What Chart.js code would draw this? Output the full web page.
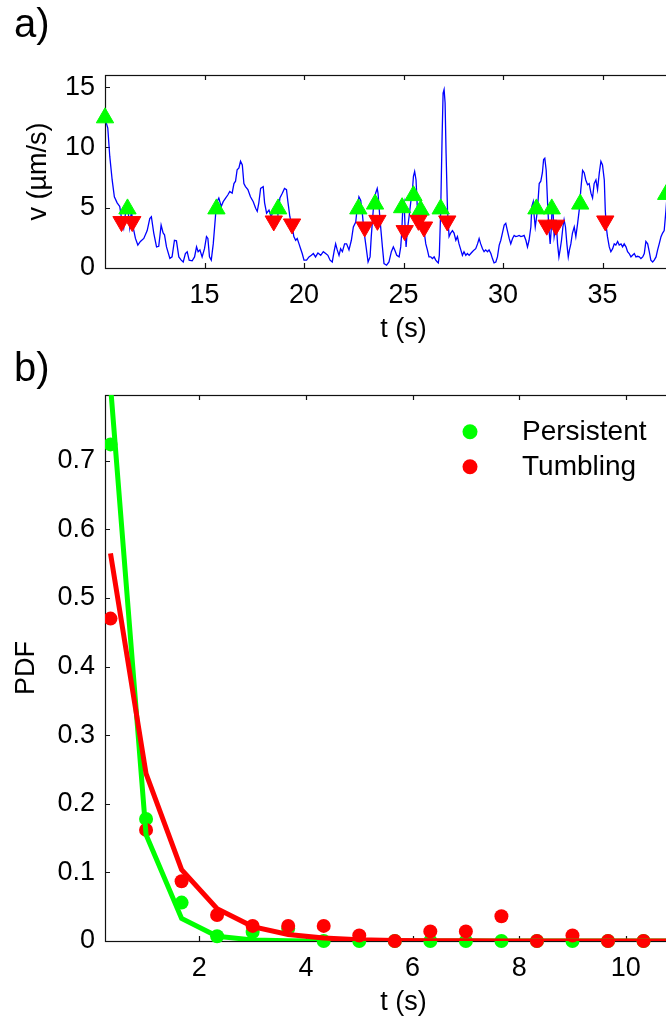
<!DOCTYPE html>
<html><head><meta charset="utf-8">
<script src="https://cdn.jsdelivr.net/npm/chart.js@4/dist/chart.umd.min.js"></script>
<style>
html,body{margin:0;padding:0;background:#fff;overflow:hidden;width:666px;height:1016px;position:relative;}
#wa{position:absolute;left:0;top:0;width:740px;height:350px;}
#wb{position:absolute;left:0;top:340px;width:740px;height:690px;}
.lab{position:absolute;z-index:5;font-family:"Liberation Sans",Arial,sans-serif;font-size:40px;line-height:1;color:#000;}
</style></head>
<body>
<div class="lab" style="left:14px;top:3px">a)</div>
<div class="lab" style="left:14px;top:347px">b)</div>
<div id="wa"><canvas id="ca" width="740" height="350"></canvas></div>
<div id="wb"><canvas id="cb" width="740" height="690"></canvas></div>
<script>
// ---------- Panel a data ----------
const tA = [10.0,10.14,10.24,10.36,10.47,10.61,10.74,10.86,10.94,11.04,11.14,11.24,11.33,11.41,11.53,11.65,11.78,11.95,12.12,12.25,12.33,12.45,12.59,12.7,12.82,12.92,12.99,13.09,13.26,13.37,13.49,13.59,13.71,13.83,13.93,14.04,14.13,14.23,14.38,14.5,14.6,14.68,14.77,14.88,15.0,15.1,15.17,15.25,15.34,15.44,15.55,15.6,15.72,15.84,15.94,16.06,16.17,16.27,16.39,16.48,16.56,16.64,16.73,16.81,16.9,16.98,17.06,17.18,17.31,17.45,17.57,17.65,17.73,17.82,17.95,18.02,18.12,18.24,18.35,18.45,18.52,18.62,18.69,18.79,18.91,19.02,19.12,19.19,19.29,19.41,19.49,19.58,19.66,19.75,19.83,19.91,20.0,20.13,20.25,20.37,20.47,20.58,20.7,20.84,20.97,21.09,21.2,21.31,21.42,21.51,21.59,21.67,21.76,21.84,21.93,22.04,22.14,22.26,22.38,22.48,22.6,22.68,22.76,22.85,22.93,23.01,23.1,23.22,23.32,23.38,23.48,23.6,23.68,23.72,23.82,23.94,24.02,24.15,24.27,24.39,24.49,24.56,24.66,24.78,24.86,24.91,24.96,25.03,25.08,25.13,25.19,25.28,25.36,25.45,25.5,25.56,25.63,25.7,25.78,25.87,25.95,26.03,26.12,26.2,26.28,26.37,26.45,26.54,26.62,26.7,26.75,26.8,26.87,26.94,26.99,27.04,27.09,27.14,27.21,27.29,27.37,27.46,27.54,27.63,27.71,27.79,27.88,27.96,28.04,28.13,28.21,28.3,28.38,28.46,28.55,28.63,28.72,28.8,28.88,28.97,29.05,29.13,29.22,29.3,29.39,29.47,29.55,29.64,29.72,29.81,29.89,29.97,30.06,30.14,30.22,30.31,30.39,30.48,30.56,30.64,30.73,30.81,30.9,30.98,31.06,31.15,31.23,31.31,31.4,31.45,31.52,31.57,31.62,31.67,31.73,31.82,31.9,31.98,32.04,32.1,32.17,32.24,32.3,32.37,32.42,32.47,32.52,32.57,32.62,32.67,32.74,32.81,32.87,32.94,33.01,33.07,33.14,33.21,33.28,33.34,33.41,33.49,33.58,33.66,33.75,33.83,33.91,34.0,34.08,34.16,34.25,34.33,34.42,34.5,34.58,34.67,34.75,34.84,34.92,35.0,35.09,35.14,35.19,35.25,35.34,35.42,35.51,35.59,35.67,35.76,35.84,35.93,36.01,36.09,36.18,36.26,36.34,36.43,36.51,36.6,36.68,36.76,36.85,36.93,37.02,37.1,37.18,37.27,37.35,37.43,37.52,37.6,37.69,37.77,37.85,37.94,38.02,38.1,38.19,38.24,38.32];
const vA = [12.4,11.6,9.25,7.3,5.9,5.4,5.1,3.8,3.3,4.7,5.1,3.4,4.8,3.4,2.45,1.9,2.2,2.45,3.1,4.1,4.25,2.9,1.75,1.8,3.55,2.9,2.75,1.75,0.8,0.92,2.3,2.25,0.92,0.65,0.5,1.2,1.35,0.65,0.6,0.92,1.75,1.35,1.5,0.92,1.6,2.6,2.45,0.92,0.65,2.0,4.25,5.4,5.8,5.1,5.5,5.8,6.05,6.35,6.2,7.0,7.2,8.15,8.3,8.85,8.55,7.0,6.75,6.5,5.9,5.5,4.95,4.7,5.4,6.6,6.75,5.4,4.55,4.8,4.25,4.7,4.8,5.1,4.4,5.8,6.2,6.6,6.5,5.5,4.25,3.4,2.6,2.3,2.45,2.0,1.6,1.2,0.65,0.65,0.92,1.05,1.2,0.92,1.25,1.05,1.35,1.2,1.05,0.65,0.5,1.35,2.0,1.5,1.05,1.6,1.35,2.0,2.0,1.5,2.3,3.4,3.8,5.1,5.9,5.6,4.55,3.1,2.0,0.5,0.92,2.6,4.8,6.2,6.6,6.2,4.0,1.75,0.36,0.23,0.5,1.35,1.75,1.5,1.05,0.92,1.75,2.9,4.8,5.4,3.4,1.75,3.1,4.25,5.4,6.5,7.6,8.0,7.3,4.8,4.25,4.8,4.0,3.1,2.0,1.5,0.92,0.92,0.78,0.92,0.65,0.5,0.42,1.05,4.8,10.9,14.5,14.8,13.7,9.5,4.8,2.6,2.9,3.1,2.9,2.3,2.6,2.0,1.5,1.05,1.35,1.05,1.2,1.05,1.2,1.35,1.5,1.6,2.0,2.45,2.0,1.6,1.35,1.5,1.35,1.5,1.2,0.78,0.42,0.5,0.92,1.9,2.3,2.9,3.55,3.7,3.1,2.45,2.0,2.45,2.7,2.6,2.65,2.7,2.6,2.65,2.7,2.3,1.75,2.3,3.4,5.1,5.5,4.25,3.4,4.0,4.8,7.0,7.2,7.9,9.0,9.1,8.1,5.4,3.4,2.0,3.1,5.1,4.55,2.6,3.1,4.0,2.0,0.92,1.5,2.3,3.4,4.0,3.4,2.0,0.92,1.5,2.0,2.9,3.4,2.6,3.7,4.8,6.5,8.1,7.9,7.3,6.9,7.0,6.2,5.8,7.0,7.3,6.5,7.9,8.85,8.55,7.3,4.8,3.4,2.6,1.75,1.35,1.6,2.0,1.9,2.2,1.9,2.0,1.75,2.0,1.75,1.35,1.2,0.92,1.05,1.2,0.92,0.97,0.92,0.78,0.92,1.2,2.2,2.0,1.35,0.65,0.5,0.65,0.92,1.5,2.0,2.6,2.9,3.1,4.8,5.9,6.3];
// persistent-phase start markers (green) and tumble markers (red)
const persT = [10.0,11.13,15.6,18.7,22.73,23.57,24.93,25.5,25.86,26.87,31.68,32.45,33.88,38.2];
const persV = [12.45,4.9,4.9,4.9,4.9,5.3,5.0,6.0,4.8,4.9,4.9,4.9,5.3,6.1];
const tumbT = [10.83,11.37,18.48,19.4,23.05,23.69,25.06,25.75,26.03,27.2,32.2,32.66,35.14];
const tumbV = [3.85,3.85,3.9,3.65,3.4,3.95,3.1,3.95,3.4,3.9,3.55,3.55,3.9];
const xTicksA = [15,20,25,30,35,40];
const yTicksA = [0,5,10,15];

// ---------- Panel b data ----------
const seriesB = ['Persistent','Tumbling'];
const tB = [0.333,1.0,1.667,2.333,3.0,3.667,4.333,5.0,5.667,6.333,7.0,7.667,8.333,9.0,9.667,10.333];
const pdfPers = [0.724,0.178,0.056,0.007,0.013,0.018,0,0,0,0,0,0,0,0,0,0];
const pdfTumb = [0.47,0.162,0.087,0.038,0.022,0.022,0.022,0.008,0,0.014,0.014,0.036,0,0.008,0,0];
const tFit = [0.333,1.0,1.667,2.333,3.0,3.667,4.333,5.0,5.667,6.333,7.0,7.667,8.333,9.0,9.667,10.333,11.0];
const fitPers = [0.81,0.155,0.033,0.007,0.0015,0.0003,0.0001,0,0,0,0,0,0,0,0,0,0];
const fitTumb = [0.565,0.244,0.104,0.047,0.021,0.0095,0.0043,0.0019,0.0009,0.0004,0.0002,0.0001,0,0,0,0,0];
const xTicksB = [2,4,6,8,10];
const yTicksB = [0,0.1,0.2,0.3,0.4,0.5,0.6,0.7];

const GREEN = '#00ff00', RED = '#ff0000', BLUE = '#0000ff';
const FONT = '"Liberation Sans", Arial, Helvetica, sans-serif';
Chart.defaults.font.family = FONT;
Chart.defaults.font.size = 27;
Chart.defaults.color = '#000';

const pts = (xs, ys) => xs.map((x, i) => ({x, y: ys[i]}));
const setTicks = arr => (axis) => { axis.ticks = arr.map(v => ({value: v})); };

// MATLAB-like box with inward ticks on all sides (drawn beneath the data)
const framePlugin = {
  id: 'frame',
  beforeDatasetsDraw(chart) {
    const {ctx, chartArea: a, scales: {x, y}} = chart;
    ctx.save();
    ctx.strokeStyle = '#111';
    ctx.lineWidth = 1.2;
    ctx.strokeRect(a.left + 0.5, a.top + 0.5, a.right - a.left, a.bottom - a.top);
    const L = 5;
    ctx.beginPath();
    x.ticks.forEach(t => {
      const p = Math.round(x.getPixelForValue(t.value)) + 0.5;
      ctx.moveTo(p, a.bottom); ctx.lineTo(p, a.bottom - L);
      ctx.moveTo(p, a.top); ctx.lineTo(p, a.top + L);
    });
    y.ticks.forEach(t => {
      const p = Math.round(y.getPixelForValue(t.value)) + 0.5;
      ctx.moveTo(a.left, p); ctx.lineTo(a.left + L, p);
      ctx.moveTo(a.right, p); ctx.lineTo(a.right - L, p);
    });
    ctx.stroke();
    ctx.restore();
  }
};

// ---------- Chart a ----------
new Chart(document.getElementById('ca'), {
  type: 'line',
  data: {
    datasets: [
      {label: 'tumble', data: pts(tumbT, tumbV), showLine: false, pointStyle: 'triangle', pointRotation: 180,
       pointRadius: 10, pointBorderWidth: 1, pointBackgroundColor: RED, pointBorderColor: RED, clip: false},
      {label: 'run', data: pts(persT, persV), showLine: false, pointStyle: 'triangle',
       pointRadius: 10, pointBorderWidth: 1, pointBackgroundColor: GREEN, pointBorderColor: GREEN, clip: false},
      {label: 'v', data: pts(tA, vA), borderColor: BLUE, borderWidth: 1.3, pointRadius: 0, tension: 0}
    ]
  },
  options: {
    responsive: false, animation: false, events: [],
    layout: {padding: {left: 22, top: 75, right: 38, bottom: 0}},
    plugins: {legend: {display: false}, tooltip: {enabled: false}},
    scales: {
      x: {type: 'linear', min: 10, max: 40,
          grid: {display: false, drawTicks: false}, border: {display: false},
          afterBuildTicks: setTicks(xTicksA),
          ticks: {padding: 11, maxRotation: 0, autoSkip: false, callback: v => String(v)},
          title: {display: true, text: 't (s)', padding: {top: 0, bottom: 4}},
          afterFit: s => { s.height = 82; }},
      y: {type: 'linear', min: 0, max: 16,
          grid: {display: false, drawTicks: false}, border: {display: false},
          afterBuildTicks: setTicks(yTicksA),
          ticks: {padding: 10, autoSkip: false, callback: v => String(v)},
          title: {display: true, text: 'v (\u00b5m/s)', padding: {top: 0, bottom: 0}},
          afterFit: s => { s.width = 83; }}
    }
  },
  plugins: [framePlugin]
});

// ---------- Chart b ----------
const legendPlugin = {
  id: 'dotLegend',
  afterDraw(chart) {
    const {ctx} = chart;
    const items = [{label: seriesB[0], color: GREEN, y: 91.7}, {label: seriesB[1], color: RED, y: 126.7}];
    ctx.save();
    ctx.font = '28px ' + FONT;
    ctx.textBaseline = 'middle';
    ctx.textAlign = 'left';
    items.forEach(it => {
      ctx.fillStyle = it.color;
      ctx.beginPath(); ctx.arc(470, it.y, 7.5, 0, Math.PI * 2); ctx.fill();
      ctx.fillStyle = '#000';
      ctx.fillText(it.label, 522, it.y + 1);
    });
    ctx.restore();
  }
};

const dotClip = {left: 0, top: false, right: false, bottom: false};
new Chart(document.getElementById('cb'), {
  type: 'line',
  data: {
    datasets: [
      {label: seriesB[1] + ' fit', data: pts(tFit, fitTumb), borderColor: RED, borderWidth: 5, pointRadius: 0, tension: 0, clip: 0},
      {label: seriesB[0] + ' fit', data: pts(tFit, fitPers), borderColor: GREEN, borderWidth: 5, pointRadius: 0, tension: 0, clip: 0},
      {label: seriesB[1], data: pts(tB, pdfTumb), showLine: false, pointRadius: 7, pointBorderWidth: 0,
       pointBackgroundColor: RED, clip: dotClip},
      {label: seriesB[0], data: pts(tB, pdfPers), showLine: false, pointRadius: 7, pointBorderWidth: 0,
       pointBackgroundColor: GREEN, clip: dotClip}
    ]
  },
  options: {
    responsive: false, animation: false, events: [],
    layout: {padding: {left: 10, top: 55, right: 38, bottom: 0}},
    plugins: {legend: {display: false}, tooltip: {enabled: false}},
    scales: {
      x: {type: 'linear', min: 0.23, max: 11.43,
          grid: {display: false, drawTicks: false}, border: {display: false},
          afterBuildTicks: setTicks(xTicksB),
          ticks: {padding: 11, maxRotation: 0, autoSkip: false, callback: v => String(v)},
          title: {display: true, text: 't (s)', padding: {top: 0, bottom: 11}},
          afterFit: s => { s.height = 89; }},
      y: {type: 'linear', min: 0, max: 0.796,
          grid: {display: false, drawTicks: false}, border: {display: false},
          afterBuildTicks: setTicks(yTicksB),
          ticks: {padding: 10, autoSkip: false, callback: v => String(v)},
          title: {display: true, text: 'PDF', padding: {top: 0, bottom: 0}},
          afterFit: s => { s.width = 95; }}
    }
  },
  plugins: [framePlugin, legendPlugin]
});
</script>
</body></html>
